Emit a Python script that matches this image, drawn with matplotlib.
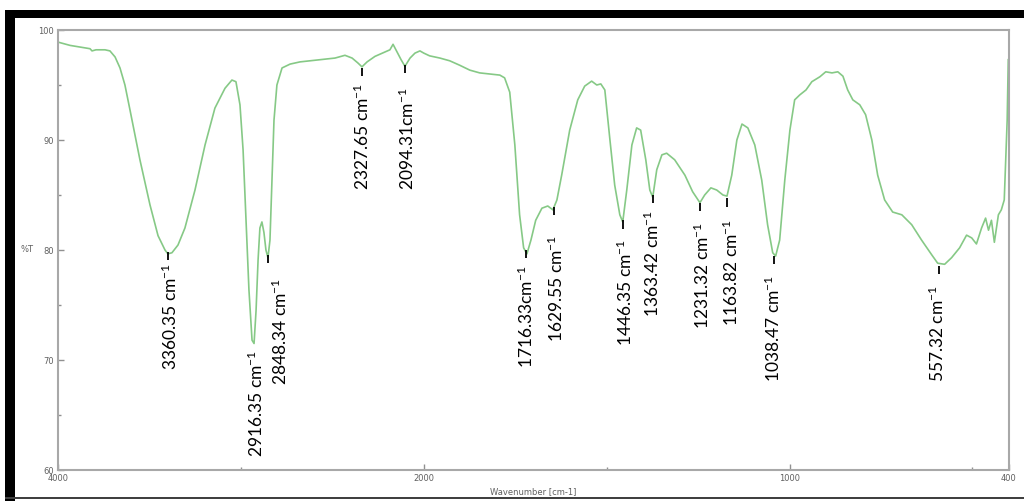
import numpy as np
import matplotlib
matplotlib.use("Agg")
import matplotlib.pyplot as plt
from matplotlib.patches import Rectangle
from matplotlib.ticker import FixedLocator, NullFormatter

# ------------------------------
# Datos del espectro IR
# ------------------------------
numero_onda = [4000, 3934, 3880, 3825, 3814, 3792, 3743, 3716, 3688, 3661,
               3634, 3606, 3552, 3497, 3453, 3415, 3399, 3377, 3344, 3306,
               3251, 3196, 3142, 3087, 3049, 3027, 3005, 2988, 2972, 2956,
               2939, 2928, 2917, 2906, 2896, 2885, 2874, 2863, 2852, 2841,
               2830, 2819, 2803, 2775, 2731, 2677, 2567, 2485, 2431, 2392,
               2360, 2338, 2310, 2267, 2212, 2185, 2168, 2146, 2124, 2103,
               2075, 2048, 2021, 2000, 1984, 1956, 1929, 1902, 1874, 1847,
               1820, 1792, 1779, 1765, 1751, 1738, 1727, 1718, 1707, 1694,
               1677, 1661, 1647, 1636, 1623, 1601, 1579, 1560, 1541, 1527,
               1516, 1505, 1491, 1478, 1464, 1456, 1445, 1431, 1418, 1407,
               1393, 1382, 1374, 1363, 1349, 1336, 1314, 1286, 1265, 1245,
               1232, 1215, 1199, 1182, 1171, 1158, 1144, 1130, 1114, 1095,
               1076, 1060, 1046, 1038, 1027, 1013, 999, 986, 972, 955,
               939, 917, 901, 884, 868, 854, 841, 827, 808, 792,
               775, 759, 740, 718, 693, 666, 639, 611, 595, 576,
               557, 535, 516, 502, 489, 475, 464, 456, 448, 440,
               429, 421, 413, 405, 402]
transmitancia = [98.9, 98.6, 98.45, 98.3, 98.1, 98.2, 98.2, 98.1, 97.55, 96.55,
                 95.0, 92.7, 88.2, 84.1, 81.3, 80.0, 79.65, 79.75, 80.45, 82.0,
                 85.45, 89.55, 92.9, 94.7, 95.45, 95.3, 93.2, 89.1, 82.7, 76.4,
                 71.8, 71.5, 74.5, 79.1, 82.0, 82.55, 81.6, 80.0, 79.3, 80.9,
                 86.4, 91.8, 95.0, 96.55, 96.9, 97.1, 97.3, 97.45, 97.7, 97.45,
                 97.0, 96.65, 97.1, 97.6, 98.0, 98.2, 98.7, 98.0, 97.3, 96.7,
                 97.45, 97.9, 98.1, 97.9, 97.65, 97.45, 97.2, 96.8, 96.35, 96.1,
                 96.0, 95.9, 95.65, 94.35, 89.55, 83.2, 80.2, 79.65, 80.9, 82.7,
                 83.8, 84.0, 83.65, 84.55, 86.8, 90.9, 93.65, 94.9, 95.35, 95.0,
                 95.1, 94.55, 90.0, 85.9, 83.2, 82.55, 85.45, 89.55, 91.1, 90.9,
                 88.2, 85.45, 84.8, 87.3, 88.65, 88.8, 88.2, 86.8, 85.3, 84.3,
                 85.0, 85.65, 85.45, 85.0, 84.9, 86.8, 90.0, 91.45, 91.1, 89.55,
                 86.35, 82.3, 79.75, 79.45, 80.9, 86.35, 90.9, 93.65, 94.1, 94.55,
                 95.3, 95.75, 96.2, 96.1, 96.2, 95.8, 94.55, 93.65, 93.2, 92.3,
                 90.0, 86.8, 84.55, 83.45, 83.2, 82.3, 80.9, 79.55, 78.8, 78.7,
                 79.3, 80.2, 81.35, 81.1, 80.55, 82.0, 82.9, 81.8, 82.7, 80.7,
                 83.2, 83.65, 84.55, 91.8, 97.3]

# picos marcados: posición de la marca y texto
picos_x = [3399, 2928, 2852, 2338, 2103, 1721, 1645, 1456, 1374, 1245, 1172, 1043, 592]
picos_t = [79.8, 71.4, 79.55, 96.55, 96.8, 80.0, 83.9, 82.7, 85.0, 84.3, 84.7, 79.45, 78.55]
etiquetas = ["3360.35 cm", "2916.35 cm", "2848.34 cm", "2327.65 cm", "2094.31cm",
             "1716.33cm", "1629.55 cm", "1446.35 cm", "1363.42 cm", "1231.32 cm",
             "1163.82 cm", "1038.47 cm", "557.32 cm"]
con_marca = [True, False, True, True, True, True, True, True, True, True, True, True, True]

# desplazamientos del texto (pixeles)
desp_x = [2, 2, 12, 0, 2, 0, 3, 3, 0, 2, 5, -1, -1]
desp_y = [3, 5, 15, 7, 14, 7, 20, 10, 7, 11, 12, 11, 11]

ticks_x = [4000, 2000, 1000, 400]
ticks_x_menor = [3000, 1500, 500]
ticks_y = [60, 70, 80, 90, 100]
ticks_y_menor = [65, 75, 85, 95]


# escala del eje x: por encima de 2000 cm-1 va comprimida a la mitad
def adelante(w):
    w = np.asarray(w, dtype=float)
    return np.where(w <= 2000, w, 2000 + (w - 2000) / 2)


def inversa(u):
    u = np.asarray(u, dtype=float)
    return np.where(u <= 2000, u, 2000 + 2 * (u - 2000))


plt.rcParams["mathtext.fontset"] = "custom"
plt.rcParams["mathtext.rm"] = "Lato"
plt.rcParams["mathtext.default"] = "regular"

W, H = 1024, 501
fig = plt.figure(figsize=(W / 100, H / 100), dpi=100)
fig.patch.set_facecolor("white")

# marco negro de la captura
fig.add_artist(Rectangle((5 / W, 1 - 18 / H), 1, 8 / H, transform=fig.transFigure,
                         color="black", lw=0))
fig.add_artist(Rectangle((5 / W, 0), 10 / W, 1 - 10 / H, transform=fig.transFigure,
                         color="black", lw=0))
fig.add_artist(Rectangle((5 / W, 2 / H), 1, 2 / H, transform=fig.transFigure,
                         color="#404040", lw=0))

ax = fig.add_axes([58 / W, 1 - 470 / H, 951 / W, 440 / H])
ax.set_xscale("function", functions=(adelante, inversa))
ax.plot(numero_onda, transmitancia, color="#86c986", lw=1.2)
ax.set_xlim(4000, 400)
ax.set_ylim(60, 100)

for x, t, txt, marca, dx, dy in zip(picos_x, picos_t, etiquetas, con_marca, desp_x, desp_y):
    if marca:
        ax.vlines(x, t - 0.75, t, color="black", lw=1.3)
        base = t - 0.75
    else:
        base = t
    ax.annotate(txt + r"$^{-1}$", xy=(x, base), xytext=(dx, -dy),
                textcoords="offset pixels", rotation=90, ha="center", va="top",
                fontsize=12.5, fontfamily="Lato", color="black")

ax.xaxis.set_major_locator(FixedLocator(ticks_x))
ax.xaxis.set_minor_locator(FixedLocator(ticks_x_menor))
ax.xaxis.set_minor_formatter(NullFormatter())
ax.set_xticklabels([str(v) for v in ticks_x])
ax.yaxis.set_major_locator(FixedLocator(ticks_y))
ax.yaxis.set_minor_locator(FixedLocator(ticks_y_menor))
ax.tick_params(which="both", direction="in", colors="#909090", labelcolor="#606060",
               labelsize=6, width=1)
ax.tick_params(which="major", length=4)
ax.tick_params(which="minor", length=2.5)
ax.tick_params(axis="x", pad=3)
ax.tick_params(axis="y", pad=3)
for s in ax.spines.values():
    s.set_color("#a8a8a8")
    s.set_linewidth(1.5)

ax.set_xlabel("Wavenumber [cm-1]", fontsize=6, color="#606060", labelpad=3)
ax.set_ylabel("%T", fontsize=6, color="#606060", rotation=0)
ax.yaxis.set_label_coords(-0.033, 0.49)

fig.savefig("out.png", dpi=100)
